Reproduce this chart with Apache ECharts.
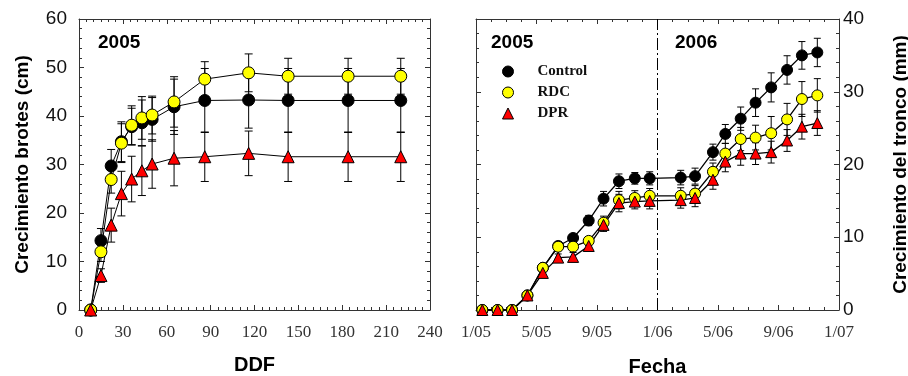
<!doctype html>
<html lang="es">
<head>
	<meta charset="UTF-8">
	<title>Crecimiento brotes y tronco</title>
	<style>
		html, body { margin: 0; padding: 0; background: #fff; }
		#chart { width: 908px; height: 376px; }
	</style>
</head>
<body>
<div id="chart"></div>
<script src="https://cdn.jsdelivr.net/npm/echarts@6/dist/echarts.min.js"></script>
<script>
	// Panel izquierdo: crecimiento de brotes (cm) frente a DDF
	var ddf = [8, 15, 22, 29, 36, 43, 50, 65, 86, 116, 143, 184, 220];
	var brotesControl = [0, 14.3, 29.7, 34.7, 37.8, 38.6, 39.3, 41.9, 43.2, 43.3, 43.2, 43.2, 43.2];
	var brotesRDC     = [0, 12.0, 26.9, 34.4, 38.1, 39.6, 40.2, 42.9, 47.6, 48.9, 48.2, 48.2, 48.2];
	var brotesDPR     = [0, 7.1, 17.5, 24.0, 27.0, 28.7, 30.1, 31.3, 31.6, 32.3, 31.6, 31.6, 31.6];
	var errBrotesControl = [0, 2.5, 3.4, 4.1, 3.8, 4.7, 4.5, 5.7, 6.6, 5.8, 6.6, 6.6, 6.6];
	var errBrotesRDC     = [0, 2.0, 2.8, 4.0, 4.0, 4.4, 3.9, 5.2, 3.6, 3.9, 3.7, 3.7, 3.7];
	var errBrotesDPR     = [0, 1.4, 3.5, 4.6, 4.7, 5.1, 5.0, 5.7, 5.1, 4.6, 5.1, 5.1, 5.1];
	var ddfTicks = [0, 30, 60, 90, 120, 150, 180, 210, 240];

	// Panel derecho: crecimiento del tronco (mm) frente a fecha
	var fechas = ['2005-01-14', '2005-02-13', '2005-03-13', '2005-04-13', '2005-05-14', '2005-06-14',
		'2005-07-14', '2005-08-15', '2005-09-14', '2005-10-15', '2005-11-16', '2005-12-16',
		'2006-02-16', '2006-03-16', '2006-04-21', '2006-05-16', '2006-06-16', '2006-07-16',
		'2006-08-17', '2006-09-18', '2006-10-18', '2006-11-18'];
	var troncoControl = [0, 0, 0, 2.0, 5.8, 8.8, 9.9, 12.3, 15.3, 17.7, 18.1, 18.1, 18.2, 18.4, 21.7, 24.2, 26.3, 28.5, 30.6, 33.0, 35.0, 35.4];
	var troncoRDC     = [0, 0, 0, 2.0, 5.8, 8.7, 8.7, 9.5, 12.0, 15.1, 15.4, 15.7, 15.7, 16.0, 19.0, 21.5, 23.5, 23.7, 24.3, 26.2, 29.0, 29.5];
	var troncoDPR     = [0, 0, 0, 2.0, 5.1, 7.2, 7.3, 8.8, 11.7, 14.7, 14.9, 15.0, 15.1, 15.4, 17.9, 20.4, 21.5, 21.5, 21.7, 23.3, 25.2, 25.7];
	var errTroncoControl = [0, 0, 0, 0.3, 0.4, 0.5, 0.5, 0.7, 1.0, 1.0, 0.8, 0.9, 1.0, 1.1, 1.1, 1.3, 1.6, 1.9, 2.0, 1.95, 1.9, 1.95];
	var errTroncoRDC     = [0, 0, 0, 0.3, 0.4, 0.5, 0.5, 0.6, 0.9, 1.2, 1.0, 1.0, 1.1, 1.1, 1.2, 1.4, 1.6, 1.7, 2.3, 2.2, 2.4, 2.3];
	var errTroncoDPR     = [0, 0, 0, 0.3, 0.4, 0.5, 0.6, 0.6, 0.9, 1.2, 1.0, 1.1, 1.1, 1.2, 1.3, 1.4, 1.6, 1.5, 1.5, 1.5, 1.7, 1.7];
	var fechaTicks = ['1/05', '5/05', '9/05', '1/06', '5/06', '9/06', '1/07'];

	// fecha -> meses desde 1/2005
	function meses(s) {
		var p = s.split('-').map(Number);
		var dias = new Date(p[0], p[1], 0).getDate();
		return (p[0] - 2005) * 12 + (p[1] - 1) + (p[2] - 1) / dias;
	}
	var mesX = fechas.map(meses);

	var serifFont = '"Liberation Serif", "DejaVu Serif", serif';
	var sansFont = '"Liberation Sans", Arial, sans-serif';
	var axisColor = '#333';

	var estilos = {
		Control: { symbol: 'circle', color: '#000000' },
		RDC: { symbol: 'circle', color: '#ffff00' },
		DPR: { symbol: 'triangle', color: '#ff0000' }
	};

	function linea(name, xs, ys, xi, yi, size, w) {
		return {
			type: 'line', name: name, xAxisIndex: xi, yAxisIndex: yi,
			data: xs.map(function (x, i) { return [x, ys[i]]; }),
			symbol: estilos[name].symbol, symbolSize: size, showSymbol: true,
			itemStyle: { color: estilos[name].color, borderColor: '#000', borderWidth: 1 },
			lineStyle: { color: '#000', width: w },
			z: 3
		};
	}

	function barras(xs, ys, es, xi, yi, cap) {
		return {
			type: 'custom', xAxisIndex: xi, yAxisIndex: yi, silent: true, z: 2,
			encode: { x: 0, y: [1, 2] },
			data: xs.map(function (x, i) { return [x, ys[i] - es[i], ys[i] + es[i]]; }),
			renderItem: function (params, api) {
				if (api.value(2) - api.value(1) <= 0) return { type: 'group', children: [] };
				var lo = api.coord([api.value(0), api.value(1)]);
				var hi = api.coord([api.value(0), api.value(2)]);
				var st = { stroke: '#000', lineWidth: 1 };
				return {
					type: 'group', children: [
						{ type: 'line', shape: { x1: lo[0], y1: lo[1], x2: hi[0], y2: hi[1] }, style: st },
						{ type: 'line', shape: { x1: lo[0] - cap, y1: lo[1], x2: lo[0] + cap, y2: lo[1] }, style: st },
						{ type: 'line', shape: { x1: hi[0] - cap, y1: hi[1], x2: hi[0] + cap, y2: hi[1] }, style: st }
					]
				};
			}
		};
	}

	function eje(extra) {
		var base = {
			type: 'value',
			axisLine: { show: true, onZero: false, lineStyle: { color: axisColor, width: 1 } },
			axisTick: { show: true, inside: true, length: 5, lineStyle: { color: axisColor } },
			minorTick: { show: true, length: 3, lineStyle: { color: axisColor } },
			splitLine: { show: false },
			minorSplitLine: { show: false },
			axisLabel: { show: false }
		};
		for (var k in extra) base[k] = extra[k];
		return base;
	}

	var myChart = echarts.init(document.getElementById('chart'), null, { renderer: 'canvas' });

	var option = {
		animation: false,
		backgroundColor: '#fff',
		grid: [
			{ left: 79, top: 19, width: 351, height: 291, outerBoundsMode: 'none', containLabel: false },
			{ left: 476, top: 19, width: 363, height: 291, outerBoundsMode: 'none', containLabel: false }
		],
		xAxis: [
			eje({ gridIndex: 0, position: 'bottom', min: 0, max: 240, interval: 30,
				minorTick: { show: true, splitNumber: 6, length: 3, lineStyle: { color: axisColor } },
				axisLabel: { show: true, margin: 14, fontFamily: serifFont, fontSize: 17, color: '#333',
					formatter: function (v) { return ddfTicks.indexOf(v) >= 0 ? String(v) : ''; } },
				name: 'DDF', nameLocation: 'middle', nameGap: 45,
				nameTextStyle: { fontFamily: sansFont, fontWeight: 'bold', fontSize: 20, color: '#000' } }),
			eje({ gridIndex: 0, position: 'top', min: 0, max: 240, interval: 30,
				minorTick: { show: true, splitNumber: 6, length: 3, lineStyle: { color: axisColor } } }),
			eje({ gridIndex: 1, position: 'bottom', min: 0, max: 24, interval: 4,
				minorTick: { show: true, splitNumber: 4, length: 3, lineStyle: { color: axisColor } },
				axisLabel: { show: true, margin: 14, fontFamily: serifFont, fontSize: 17, color: '#333',
					formatter: function (v) { return fechaTicks[v / 4] || ''; } },
				name: 'Fecha', nameLocation: 'middle', nameGap: 47,
				nameTextStyle: { fontFamily: sansFont, fontWeight: 'bold', fontSize: 20, color: '#000' } }),
			eje({ gridIndex: 1, position: 'top', min: 0, max: 24, interval: 4,
				minorTick: { show: true, splitNumber: 4, length: 3, lineStyle: { color: axisColor } } })
		],
		yAxis: [
			eje({ gridIndex: 0, position: 'left', min: 0, max: 60, interval: 10,
				minorTick: { show: true, splitNumber: 5, length: 3, lineStyle: { color: axisColor } },
				axisLabel: { show: true, margin: 12, fontFamily: sansFont, fontSize: 19, color: '#111' },
				name: 'Crecimiento brotes (cm)', nameLocation: 'middle', nameGap: 47, nameRotate: 90,
				nameTextStyle: { fontFamily: sansFont, fontWeight: 'bold', fontSize: 19, color: '#000' } }),
			eje({ gridIndex: 0, position: 'right', min: 0, max: 60, interval: 10,
				minorTick: { show: true, splitNumber: 5, length: 3, lineStyle: { color: axisColor } } }),
			eje({ gridIndex: 1, position: 'right', min: 0, max: 40, interval: 10,
				minorTick: { show: true, splitNumber: 5, length: 3, lineStyle: { color: axisColor } },
				axisLabel: { show: true, margin: 4, fontFamily: sansFont, fontSize: 19, color: '#111' },
				name: 'Crecimiento del tronco (mm)', nameLocation: 'middle', nameGap: 52, nameRotate: 90,
				nameTextStyle: { fontFamily: sansFont, fontWeight: 'bold', fontSize: 19, color: '#000' } }),
			eje({ gridIndex: 1, position: 'left', min: 0, max: 40, interval: 10,
				minorTick: { show: true, splitNumber: 5, length: 3, lineStyle: { color: axisColor } } })
		],
		legend: {
			orient: 'vertical', left: 497, top: 59, itemWidth: 11, itemHeight: 11, itemGap: 6,
			selectedMode: false,
			textStyle: { fontFamily: serifFont, fontWeight: 'bold', fontSize: 15, color: '#111', padding: [0, 0, 0, 19] },
			data: [
				{ name: 'Control', icon: 'circle', itemStyle: { color: '#000', borderColor: '#000', borderWidth: 1 } },
				{ name: 'RDC', icon: 'circle', itemStyle: { color: '#ffff00', borderColor: '#000', borderWidth: 1 } },
				{ name: 'DPR', icon: 'triangle', itemStyle: { color: '#ff0000', borderColor: '#000', borderWidth: 1 } }
			]
		},
		graphic: [
			{ type: 'text', left: 98, top: 33, style: { text: '2005', font: 'bold 19px ' + sansFont, fill: '#000' } },
			{ type: 'text', left: 491, top: 33, style: { text: '2005', font: 'bold 19px ' + sansFont, fill: '#000' } },
			{ type: 'text', left: 675, top: 33, style: { text: '2006', font: 'bold 19px ' + sansFont, fill: '#000' } }
		],
		series: [
			barras(ddf, brotesControl, errBrotesControl, 0, 0, 4),
			barras(ddf, brotesRDC, errBrotesRDC, 0, 0, 4),
			barras(ddf, brotesDPR, errBrotesDPR, 0, 0, 4),
			linea('Control', ddf, brotesControl, 0, 0, 12, 1),
			linea('RDC', ddf, brotesRDC, 0, 0, 12, 1),
			linea('DPR', ddf, brotesDPR, 0, 0, 12, 1),
			barras(mesX, troncoControl, errTroncoControl, 2, 2, 3.5),
			barras(mesX, troncoRDC, errTroncoRDC, 2, 2, 3.5),
			barras(mesX, troncoDPR, errTroncoDPR, 2, 2, 3.5),
			(function () {
				var s = linea('Control', mesX, troncoControl, 2, 2, 11, 1.3);
				s.markLine = {
					silent: true, symbol: 'none', label: { show: false },
					lineStyle: { color: '#000', width: 1, type: [12, 3, 2, 3] },
					data: [{ xAxis: 12 }]
				};
				return s;
			})(),
			linea('RDC', mesX, troncoRDC, 2, 2, 11, 1.3),
			linea('DPR', mesX, troncoDPR, 2, 2, 11, 1.3)
		]
	};

	myChart.setOption(option);
</script>
</body>
</html>
